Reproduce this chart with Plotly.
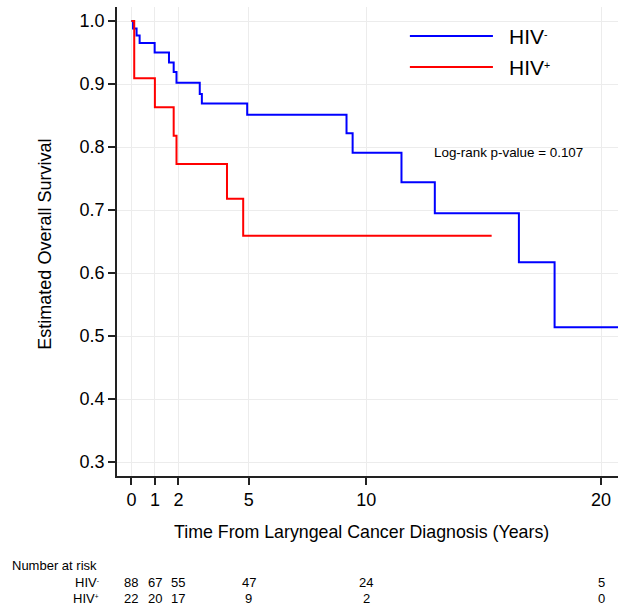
import plotly.graph_objects as go

# ---- data ----
hiv_neg_times = [0.07, 0.22, 0.35, 0.99, 1.60, 1.80, 1.92, 2.91, 3.00, 4.93, 9.16, 9.42, 11.5, 12.92, 16.5, 18.02]
hiv_neg_surv = [0.988, 0.977, 0.965, 0.950, 0.934, 0.919, 0.902, 0.884, 0.869, 0.851, 0.822, 0.791, 0.744, 0.695, 0.617, 0.514]
hiv_neg_end = 21.0

hiv_pos_times = [0.12, 1.00, 1.80, 1.92, 4.07, 4.76]
hiv_pos_surv = [0.909, 0.863, 0.818, 0.773, 0.718, 0.659]
hiv_pos_end = 15.34

risk_times = [0, 1, 2, 5, 10, 20]
risk_neg = [88, 67, 55, 47, 24, 5]
risk_pos = [22, 20, 17, 9, 2, 0]

x_ticks = [0, 1, 2, 5, 10, 20]
y_ticks = [0.3, 0.4, 0.5, 0.6, 0.7, 0.8, 0.9, 1.0]

# ---- layout constants (pixels) ----
W, H = 618, 608
L, R, T, B = 117.3, 618, 7, 476


def px(x):
    return (x - L) / (R - L)


def py(y):
    return (B - y) / (B - T)


FONT = "Liberation Sans, Arial, Helvetica, sans-serif"


def km_xy(times, surv, end):
    xs = [0.0] + list(times) + [end]
    ys = [1.0] + list(surv) + [surv[-1]]
    return xs, ys


fig = go.Figure()
xn, yn = km_xy(hiv_neg_times, hiv_neg_surv, hiv_neg_end)
xp, yp = km_xy(hiv_pos_times, hiv_pos_surv, hiv_pos_end)
fig.add_trace(go.Scatter(x=xn, y=yn, mode="lines", line=dict(color="#0000FF", width=2, shape="hv"),
                         name="HIV-", showlegend=False))
fig.add_trace(go.Scatter(x=xp, y=yp, mode="lines", line=dict(color="#FF0000", width=2, shape="hv"),
                         name="HIV+", showlegend=False))

annotations = []
shapes = []

SUP_NEG = "HIV<span style='font-size:72%'><sup>-</sup></span>"
SUP_POS = "HIV<span style='font-size:72%'><sup>+</sup></span>"

# legend (drawn manually to match long line samples)
for color, label, yy in [("#0000FF", SUP_NEG, 36), ("#FF0000", SUP_POS, 67)]:
    shapes.append(dict(type="line", xref="paper", yref="paper", x0=px(410), x1=px(493), y0=py(yy), y1=py(yy),
                       line=dict(color=color, width=2)))
    annotations.append(dict(xref="paper", yref="paper", x=px(507), y=py(yy), text=label, showarrow=False,
                            xanchor="left", yanchor="middle", font=dict(size=21, color="black", family=FONT)))

annotations.append(dict(xref="paper", yref="paper", x=px(432), y=py(153), text="Log-rank p-value = 0.107",
                        showarrow=False, xanchor="left", yanchor="middle",
                        font=dict(size=13.4, color="black", family=FONT)))

# axis titles
annotations.append(dict(xref="paper", yref="paper", x=px(361.5), y=py(532),
                        text="Time From Laryngeal Cancer Diagnosis (Years)", showarrow=False,
                        xanchor="center", yanchor="middle", font=dict(size=17.8, color="black", family=FONT)))
annotations.append(dict(xref="paper", yref="paper", x=px(45), y=py(244), text="Estimated Overall Survival",
                        textangle=-90, showarrow=False, xanchor="center", yanchor="middle",
                        font=dict(size=18, color="black", family=FONT)))

# number at risk table
annotations.append(dict(xref="paper", yref="paper", x=px(10), y=py(565), text="Number at risk", showarrow=False,
                        xanchor="left", yanchor="middle", font=dict(size=13, color="black", family=FONT)))
for label, vals, yy in [(SUP_NEG, risk_neg, 582), (SUP_POS, risk_pos, 598)]:
    annotations.append(dict(xref="paper", yref="paper", x=px(101), y=py(yy), text=label, showarrow=False,
                            xanchor="right", yanchor="middle", font=dict(size=13, color="black", family=FONT)))
    for t, v in zip(risk_times, vals):
        annotations.append(dict(xref="x", yref="paper", x=t, y=py(yy), text=str(v), showarrow=False,
                                xanchor="center", yanchor="middle",
                                font=dict(size=13, color="black", family=FONT)))

x0 = (L - 131.7) / 23.47
x1 = (R - 131.7) / 23.47
y1 = 1.0 + (21 - T) / 630
y0 = 1.0 - (B - 21) / 630

fig.update_layout(
    width=W, height=H,
    margin=dict(l=L, r=W - R, t=T, b=H - B, pad=0),
    paper_bgcolor="white", plot_bgcolor="white",
    showlegend=False,
    font=dict(family=FONT, color="black"),
    annotations=annotations,
    shapes=shapes,
    xaxis=dict(range=[x0, x1], tickvals=x_ticks, ticktext=[str(v) for v in x_ticks],
               showgrid=True, gridcolor="#ececec", gridwidth=1, zeroline=False,
               showline=True, linecolor="#222", linewidth=1.5,
               ticks="outside", ticklen=7, tickwidth=1.5, tickcolor="#222",
               tickfont=dict(size=18, color="black", family=FONT)),
    yaxis=dict(range=[y0, y1], tickvals=y_ticks, ticktext=["%.1f" % v for v in y_ticks],
               showgrid=True, gridcolor="#ececec", gridwidth=1, zeroline=False,
               showline=True, linecolor="#222", linewidth=1.5,
               ticks="outside", ticklen=7, tickwidth=1.5, tickcolor="#222",
               tickfont=dict(size=18, color="black", family=FONT)),
)

fig.write_html("out.html", config={"displayModeBar": False},
               post_script="document.body.style.margin='0px';document.body.style.overflow='hidden';")
